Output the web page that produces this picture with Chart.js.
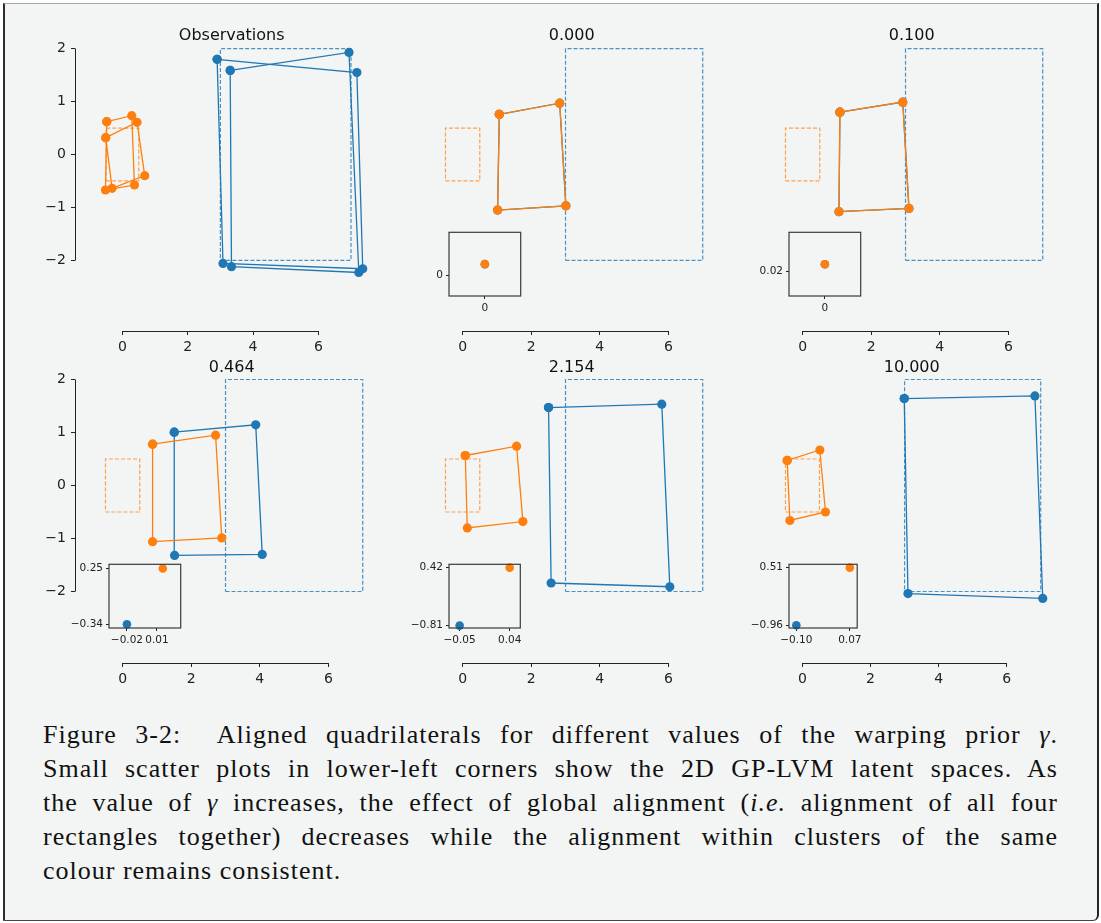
<!DOCTYPE html>
<html>
<head>
<meta charset="utf-8">
<script src="https://cdn.jsdelivr.net/npm/chart.js@4.4.1/dist/chart.umd.min.js"></script>
<style>
  body { margin: 0; background: #fff; width: 1101px; height: 923px; position: relative; overflow: hidden; }
  #frame {
    position: absolute; left: 3px; top: 3px; width: 1096px; height: 918px; box-sizing: border-box;
    background: #f3f5f4; border-top: 1px solid #a8a8a8; border-left: 2px solid #2e2e2e;
    border-right: 2px solid #1f2626; border-bottom: 1px solid #444; border-bottom-right-radius: 6px;
  }
  canvas { position: absolute; }
  #caption {
    position: absolute; left: 43px; top: 718px; width: 1015px;
    font-family: "Liberation Serif", serif; font-size: 26px; line-height: 34px; color: #111;
    letter-spacing: 1px;
  }
  #caption .ln { text-align: justify; text-align-last: justify; }
  #caption .ln.last { text-align-last: left; }
</style>
</head>
<body>
<div id="frame"></div>
<div id="caption">
  <div class="ln">Figure 3-2:&nbsp; Aligned quadrilaterals for different values of the warping prior <i>γ</i>.</div>
  <div class="ln">Small scatter plots in lower-left corners show the 2D GP-LVM latent spaces. As</div>
  <div class="ln">the value of <i>γ</i> increases, the effect of global alignment (<i>i.e.</i> alignment of all four</div>
  <div class="ln">rectangles together) decreases while the alignment within clusters of the same</div>
  <div class="ln last">colour remains consistent.</div>
</div>
<script>
const titles = ["Observations", "0.000", "0.100", "0.464", "2.154", "10.000"];
const xTicks = [0, 2, 4, 6];
const yTicks = [-2, -1, 0, 1, 2];

// reference rectangles (corner pairs)
const orangeRect = [[-0.5, -0.5], [0.5, 0.5]];
const blueRect = [[3, -2], [7, 2]];

// observations: two noisy copies of each rectangle
const obsOrangeA = [[-0.48, 0.62], [0.285, 0.733], [0.368, -0.577], [-0.52, -0.671]];
const obsOrangeB = [[-0.511, 0.318], [0.447, 0.609], [0.683, -0.40], [-0.318, -0.639]];
const obsBlueA = [[2.90, 1.80], [7.18, 1.55], [7.36, -2.16], [3.08, -2.06]];
const obsBlueB = [[3.30, 1.59], [6.94, 1.93], [7.24, -2.23], [3.34, -2.12]];

// aligned quads (blue = orange when gamma is small)
const g0000Quad = [[1.07, 0.76], [2.83, 0.97], [3.01, -0.97], [1.02, -1.05]];
const g0100Quad = [[1.087, 0.80], [2.92, 0.99], [3.10, -1.02], [1.06, -1.08]];
const g0464Orange = [[0.874, 0.78], [2.71, 0.95], [2.89, -0.99], [0.874, -1.06]];
const g0464Blue = [[1.505, 1.006], [3.88, 1.145], [4.07, -1.30], [1.515, -1.32]];
const g2154Orange = [[0.078, 0.566], [1.573, 0.742], [1.757, -0.68], [0.136, -0.80]];
const g2154Blue = [[2.505, 1.47], [5.806, 1.535], [6.04, -1.91], [2.58, -1.84]];
const g10Orange = [[-0.45, 0.474], [0.51, 0.67], [0.676, -0.50], [-0.37, -0.66]];
const g10Blue = [[2.99, 1.64], [6.83, 1.69], [7.06, -2.13], [3.10, -2.04]];

// latent spaces (insets)
const lat0000Orange = [0, 0.009], lat0000Blue = [0, 0.009];
const lat0000XTicks = [0], lat0000YTicks = [0];
const lat0000XLim = [-0.05, 0.05], lat0000YLim = [-0.016, 0.034];

const lat0100Orange = [0, 0.0256], lat0100Blue = [0, 0.0256];
const lat0100XTicks = [0], lat0100YTicks = [0.02];
const lat0100XLim = [-0.05, 0.05], lat0100YLim = [0.0007, 0.0507];

const lat0464Orange = [0.0158, 0.25], lat0464Blue = [-0.02, -0.34];
const lat0464XTicks = [-0.02, 0.01], lat0464YTicks = [-0.34, 0.25];
const lat0464XLim = [-0.0379, 0.0337], lat0464YLim = [-0.379, 0.295];

const lat2154Orange = [0.04, 0.42], lat2154Blue = [-0.05, -0.81];
const lat2154XTicks = [-0.05, 0.04], lat2154YTicks = [-0.81, 0.42];
const lat2154XLim = [-0.0691, 0.0591], lat2154YLim = [-0.861, 0.491];

const lat10Orange = [0.07, 0.51], lat10Blue = [-0.10, -0.96];
const lat10XTicks = [-0.10, 0.07], lat10YTicks = [-0.96, 0.51];
const lat10XLim = [-0.1233, 0.0933], lat10YLim = [-1.031, 0.595];

const ORANGE = "#ff7f0e", BLUE = "#1f77b4";
const ORANGE_DASH = "rgba(255,127,14,0.72)", BLUE_DASH = "rgba(31,119,180,0.8)";
const BG = "#f3f5f4", INK = "#222";

const orangeQuads = [[obsOrangeA, obsOrangeB], [g0000Quad], [g0100Quad], [g0464Orange], [g2154Orange], [g10Orange]];
const blueQuads = [[obsBlueA, obsBlueB], [g0000Quad], [g0100Quad], [g0464Blue], [g2154Blue], [g10Blue]];
const insets = [
  null,
  [lat0000Orange, lat0000Blue, lat0000XTicks, lat0000YTicks, lat0000XLim, lat0000YLim],
  [lat0100Orange, lat0100Blue, lat0100XTicks, lat0100YTicks, lat0100XLim, lat0100YLim],
  [lat0464Orange, lat0464Blue, lat0464XTicks, lat0464YTicks, lat0464XLim, lat0464YLim],
  [lat2154Orange, lat2154Blue, lat2154XTicks, lat2154YTicks, lat2154XLim, lat2154YLim],
  [lat10Orange, lat10Blue, lat10XTicks, lat10YTicks, lat10XLim, lat10YLim],
];

// layout (page pixels)
const rowTop = [23, 355];
const rowY2 = [48.7, 379.5], rowYm2 = [260.3, 591.5];
const insetTop = [223, 555];

const closed = (pts) => pts.concat([pts[0]]).map(([x, y]) => ({ x, y }));
const rectPts = ([[x0, y0], [x1, y1]]) =>
  [[x0, y0], [x1, y0], [x1, y1], [x0, y1], [x0, y0]].map(([x, y]) => ({ x, y }));
const minus = (s) => s.replace("-", "\u2212");
const fmtInt = (v) => minus(String(v));
const fmt2 = (v) => (v === 0 ? "0" : minus(v.toFixed(2)));

function addCanvas(left, top, w, h) {
  const cv = document.createElement("canvas");
  cv.width = w; cv.height = h;
  cv.style.left = left + "px"; cv.style.top = top + "px";
  cv.style.width = w + "px"; cv.style.height = h + "px";
  document.body.appendChild(cv);
  return cv;
}

const align = (p) => Math.round(p - 0.5) + 0.5;

const spinePlugin = {
  id: "spines",
  afterDraw(chart, args, o) {
    const { ctx, chartArea: a, scales } = chart;
    ctx.save();
    ctx.strokeStyle = INK;
    ctx.lineWidth = 1;
    ctx.beginPath();
    const yb = align(a.bottom);
    ctx.moveTo(align(scales.x.getPixelForValue(xTicks[0])), yb);
    ctx.lineTo(align(scales.x.getPixelForValue(xTicks[xTicks.length - 1])), yb);
    if (o.showY) {
      const xl = align(a.left);
      ctx.moveTo(xl, align(scales.y.getPixelForValue(yTicks[0])));
      ctx.lineTo(xl, align(scales.y.getPixelForValue(yTicks[yTicks.length - 1])));
    }
    ctx.stroke();
    ctx.restore();
  },
};

const framePlugin = {
  id: "frame",
  beforeDraw(chart) {
    const { ctx, chartArea: a } = chart;
    ctx.save();
    ctx.fillStyle = BG;
    ctx.fillRect(a.left, a.top, a.right - a.left, a.bottom - a.top);
    ctx.restore();
  },
  afterDatasetsDraw(chart) {
    const { ctx, chartArea: a } = chart;
    ctx.save();
    ctx.strokeStyle = "#3a3a3a";
    ctx.lineWidth = 1.2;
    ctx.strokeRect(a.left, a.top, a.right - a.left, a.bottom - a.top);
    ctx.restore();
  },
};

function lineSet(data, color, dashed) {
  return {
    data,
    showLine: true,
    clip: false,
    borderColor: color,
    borderWidth: dashed ? 1.2 : 1.3,
    borderDash: dashed ? [4, 2] : [],
    pointRadius: dashed ? 0 : 4.6,
    pointBackgroundColor: color,
    pointBorderWidth: 0,
  };
}

function makePanel(i) {
  const r = Math.floor(i / 3), c = i % 3;
  const colX = 40 + 340 * c;
  const left = colX + 5, top = rowTop[r];
  const cv = addCanvas(left, top, 348, 338);

  // Chart.js paints the first dataset on top, so orange comes first
  const datasets = [
    ...orangeQuads[i].map((q) => lineSet(closed(q), ORANGE, false)),
    ...blueQuads[i].map((q) => lineSet(closed(q), BLUE, false)),
    lineSet(rectPts(blueRect), BLUE_DASH, true),
    lineSet(rectPts(orangeRect), ORANGE_DASH, true),
  ];

  // x scale as matplotlib autoscale: data extent + 5% margins over a 283px axes
  const xs = datasets.flatMap((d) => d.data.map((p) => p.x));
  const lo = Math.min(...xs), hi = Math.max(...xs), range = hi - lo;
  const sx = 283 / (1.1 * range);
  const X0 = colX + 52.6 + (0.05 * range - lo) * sx;
  const sy = (rowYm2[r] - rowY2[r]) / 4;
  const Y0 = (rowY2[r] + rowYm2[r]) / 2;
  const showY = c === 0;
  const tickFont = { family: "DejaVu Sans", size: 14 };

  const chart = new Chart(cv, {
    type: "scatter",
    data: { datasets },
    plugins: [spinePlugin],
    options: {
      responsive: false,
      animation: false,
      events: [],
      layout: { padding: 0 },
      plugins: {
        legend: { display: false },
        tooltip: { enabled: false },
        title: {
          display: true,
          text: titles[i],
          fullSize: false,
          color: "#111",
          font: { family: "DejaVu Sans", size: 16, weight: "normal" },
          padding: { top: 3, bottom: 2 },
        },
        spines: { showY },
      },
      scales: {
        x: {
          type: "linear", min: -1, max: 8, bounds: "data",
          afterBuildTicks: (s) => { s.ticks = xTicks.map((v) => ({ value: v })); },
          afterFit: (s) => { s.height = 30; },
          border: { display: false },
          grid: { drawOnChartArea: false, drawTicks: true, tickLength: 4, color: INK, lineWidth: 1 },
          ticks: { color: INK, padding: 4, maxRotation: 0, font: tickFont, callback: (v) => fmtInt(v) },
        },
        y: {
          type: "linear", min: -3, max: 2.5, bounds: "data",
          afterBuildTicks: (s) => { s.ticks = yTicks.map((v) => ({ value: v })); },
          afterFit: (s) => { s.width = 30; },
          border: { display: false },
          grid: { display: showY, drawOnChartArea: false, drawTicks: true, tickLength: 4, color: INK, lineWidth: 1 },
          ticks: { display: showY, color: INK, padding: 5, font: tickFont, callback: (v) => fmtInt(v) },
        },
      },
    },
  });

  const a = chart.chartArea;
  const x0 = X0 - left, y0 = Y0 - top;
  chart.options.scales.x.min = (a.left - x0) / sx;
  chart.options.scales.x.max = (a.right - x0) / sx;
  chart.options.scales.y.min = (y0 - a.bottom) / sy;
  chart.options.scales.y.max = (y0 - a.top) / sy;
  chart.update("none");
}

function makeInset(i) {
  const ins = insets[i];
  if (!ins) return;
  const [orange, blue, xt, yt, xl, yl] = ins;
  const r = Math.floor(i / 3), c = i % 3;
  const boxLeft = Math.round(109.3 + 340 * c);
  const cv = addCanvas(boxLeft - 40, insetTop[r], 116, 93);
  const pt = (p, color) => ({
    data: [{ x: p[0], y: p[1] }], clip: false, pointRadius: 4.3,
    pointBackgroundColor: color, pointBorderWidth: 0, borderColor: color,
  });
  const tickFont = { family: "DejaVu Sans", size: 10.5 };
  new Chart(cv, {
    type: "scatter",
    data: { datasets: [pt(orange, ORANGE), pt(blue, BLUE)] },
    plugins: [framePlugin],
    options: {
      responsive: false,
      animation: false,
      events: [],
      layout: { padding: { top: 4, right: 4, left: 0, bottom: 0 } },
      plugins: { legend: { display: false }, tooltip: { enabled: false } },
      scales: {
        x: {
          type: "linear", min: xl[0], max: xl[1], bounds: "data",
          afterBuildTicks: (s) => { s.ticks = xt.map((v) => ({ value: v })); },
          afterFit: (s) => { s.height = 20; },
          border: { display: false },
          grid: { drawOnChartArea: false, tickLength: 3, color: INK },
          ticks: { color: INK, padding: 3, font: tickFont, maxRotation: 0, callback: (v) => fmt2(v) },
        },
        y: {
          type: "linear", min: yl[0], max: yl[1], bounds: "data",
          afterBuildTicks: (s) => { s.ticks = yt.map((v) => ({ value: v })); },
          afterFit: (s) => { s.width = 40; },
          border: { display: false },
          grid: { drawOnChartArea: false, tickLength: 3, color: INK },
          ticks: { color: INK, padding: 3, font: tickFont, callback: (v) => fmt2(v) },
        },
      },
    },
  });
}

for (let i = 0; i < 6; i++) makePanel(i);
for (let i = 0; i < 6; i++) makeInset(i);
</script>
</body>
</html>
